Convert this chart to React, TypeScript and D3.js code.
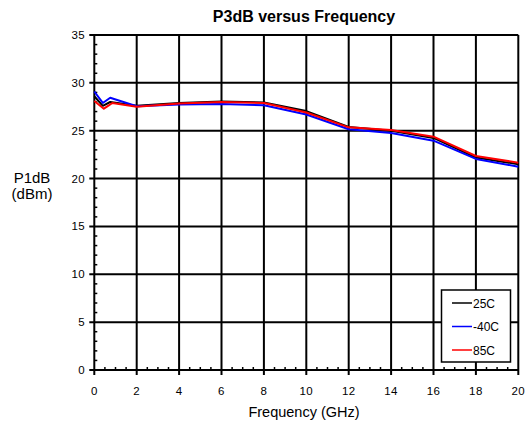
import React from "react";
import * as d3 from "d3";

const freq25 = [0, 0.4, 0.75, 2, 4, 6, 8, 10, 12, 14, 16, 18, 20];
const p25 = [28.6, 27.6, 28.0, 27.6, 27.9, 28.05, 27.95, 27.05, 25.4, 25.0, 24.25, 22.2, 21.5];
const freqM40 = [0, 0.4, 0.75, 2, 4, 6, 8, 10, 12, 14, 16, 18, 20];
const pM40 = [29.1, 27.9, 28.45, 27.55, 27.75, 27.8, 27.65, 26.7, 25.15, 24.75, 23.96, 22.05, 21.24];
const freq85 = [0, 0.45, 0.65, 0.85, 2, 4, 6, 8, 10, 12, 14, 16, 18, 20];
const p85 = [28.1, 27.3, 27.6, 27.9, 27.5, 27.85, 28.0, 27.9, 26.9, 25.35, 25.08, 24.38, 22.36, 21.66];

const xTicks = [0, 2, 4, 6, 8, 10, 12, 14, 16, 18, 20];
const yTicks = [0, 5, 10, 15, 20, 25, 30, 35];
const seriesNames = ["25C", "-40C", "85C"];
const seriesColors = ["#000000", "#0000ff", "#ff0000"];

const W = 529, H = 425;
const left = 94.3, right = 518.3, top = 35, bottom = 370;
const FONT = "'Liberation Sans', Arial, sans-serif";

export default function App() {
  const x = d3.scaleLinear().domain([0, 20]).range([left, right]);
  const y = d3.scaleLinear().domain([0, 35]).range([bottom, top]);
  const line = d3.line<[number, number]>().x(d => x(d[0])).y(d => y(d[1]));
  const series = [
    d3.zip(freq25, p25) as [number, number][],
    d3.zip(freqM40, pM40) as [number, number][],
    d3.zip(freq85, p85) as [number, number][],
  ];
  const xMinor = d3.range(0, 20.001, 0.5).filter(v => Math.abs(v % 2) > 1e-6);
  const yMinor = d3.range(0, 35.001, 1).filter(v => v % 5 !== 0);
  const lgX = 441.5, lgY = 290, lgW = 69, lgH = 72;

  return (
    <svg width={W} height={H} style={{ position: "absolute", left: 0, top: 0 }}>
      <rect width={W} height={H} fill="#fff" />
      <text x={304} y={22} textAnchor="middle" fontFamily={FONT} fontWeight="bold" fontSize={16}>P3dB versus Frequency</text>
      {/* grid */}
      {xTicks.map(t => (
        <line key={"gx" + t} x1={x(t)} x2={x(t)} y1={top} y2={bottom + 5} stroke="#000" strokeWidth={2} />
      ))}
      {yTicks.map(t => (
        <line key={"gy" + t} x1={left - 5} x2={right} y1={y(t)} y2={y(t)} stroke="#000" strokeWidth={2} />
      ))}
      {xMinor.map(t => (
        <line key={"mx" + t} x1={x(t)} x2={x(t)} y1={bottom} y2={bottom - 3} stroke="#000" strokeWidth={1.5} />
      ))}
      {yMinor.map(t => (
        <line key={"my" + t} x1={left} x2={left + 3} y1={y(t)} y2={y(t)} stroke="#000" strokeWidth={1.5} />
      ))}
      {xTicks.map(t => (
        <text key={"xl" + t} x={x(t)} y={395} textAnchor="middle" fontFamily={FONT} fontSize={11.5} letterSpacing={0.4}>{t}</text>
      ))}
      {yTicks.map(t => (
        <text key={"yl" + t} x={85} y={y(t) + 4} textAnchor="end" fontFamily={FONT} fontSize={11.5} letterSpacing={0.4}>{t}</text>
      ))}
      <text x={304} y={417} textAnchor="middle" fontFamily={FONT} fontSize={14.5}>Frequency (GHz)</text>
      <text x={32} y={183} textAnchor="middle" fontFamily={FONT} fontSize={15}>P1dB</text>
      <text x={32} y={199} textAnchor="middle" fontFamily={FONT} fontSize={15}>(dBm)</text>
      {/* series */}
      {series.map((s, i) => (
        <path key={"s" + i} d={line(s) || ""} fill="none" stroke={seriesColors[i]} strokeWidth={2} strokeLinejoin="round" />
      ))}
      {/* legend */}
      <rect x={lgX} y={lgY} width={lgW} height={lgH} fill="#fff" stroke="#000" strokeWidth={1.5} />
      {seriesNames.map((n, i) => {
        const yy = lgY + 13 + i * 23.5;
        return (
          <g key={"lg" + i}>
            <line x1={452} x2={472} y1={yy} y2={yy} stroke={seriesColors[i]} strokeWidth={1.5} />
            <text x={473} y={yy + 4.5} fontFamily={FONT} fontSize={12}>{n}</text>
          </g>
        );
      })}
    </svg>
  );
}
